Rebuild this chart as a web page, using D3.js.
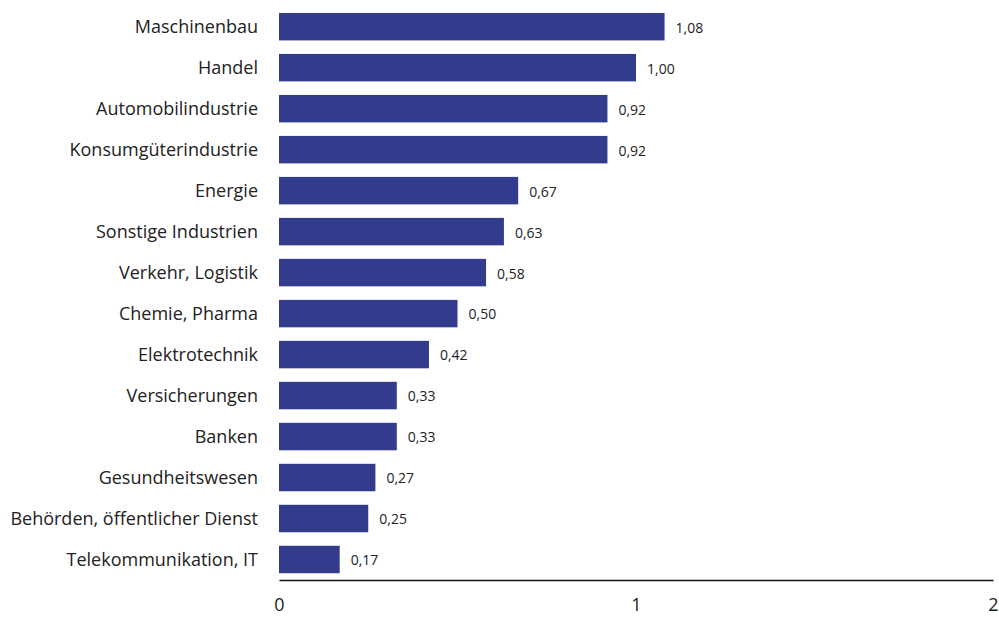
<!DOCTYPE html>
<html><head><meta charset="utf-8">
<script src="https://cdn.jsdelivr.net/npm/d3@7"></script>
<style>body{margin:0;background:#fff;} text{font-family:"Open Sans","Noto Sans",sans-serif;}</style>
</head><body><svg id="c" width="999" height="617"></svg>
<script>
const categories = ["Maschinenbau","Handel","Automobilindustrie","Konsumgüterindustrie","Energie","Sonstige Industrien","Verkehr, Logistik","Chemie, Pharma","Elektrotechnik","Versicherungen","Banken","Gesundheitswesen","Behörden, öffentlicher Dienst","Telekommunikation, IT"];
const values = [1.08,1.00,0.92,0.92,0.67,0.63,0.58,0.50,0.42,0.33,0.33,0.27,0.25,0.17];
const valueLabels = ["1,08","1,00","0,92","0,92","0,67","0,63","0,58","0,50","0,42","0,33","0,33","0,27","0,25","0,17"];
const xTicks = [0,1,2];

const svg = d3.select("#c");
const x = d3.scaleLinear().domain([0,2]).range([279,993]);
const y = d3.scaleBand().domain(categories).range([6.2,580]).paddingInner(0.33).paddingOuter(0.165);

svg.selectAll("rect.bar").data(categories).enter().append("rect")
  .attr("x", x(0)).attr("y", d=>y(d))
  .attr("width", (d,i)=>x(values[i])-x(0)).attr("height", y.bandwidth())
  .attr("fill","#323b8c");

svg.selectAll("text.cat").data(categories).enter().append("text")
  .attr("x", 258).attr("y", d=>y(d)+y.bandwidth()/2).attr("dy","0.35em")
  .attr("text-anchor","end").attr("font-size",18).attr("fill","#222").text(d=>d);

svg.selectAll("text.val").data(categories).enter().append("text")
  .attr("x", (d,i)=>x(values[i])+11).attr("y", d=>y(d)+y.bandwidth()/2+1).attr("dy","0.35em")
  .attr("font-size",14).attr("fill","#222").text((d,i)=>valueLabels[i]);

const ax = svg.append("g").attr("transform","translate(0,580)")
  .call(d3.axisBottom(x).tickValues(xTicks).tickSize(0).tickPadding(18).tickFormat(d3.format("d")));
ax.select(".domain").attr("stroke","#111").attr("stroke-width",1.3);
ax.selectAll("text").attr("font-size",18).attr("fill","#222").attr("font-family","Open Sans");
</script></body></html>
